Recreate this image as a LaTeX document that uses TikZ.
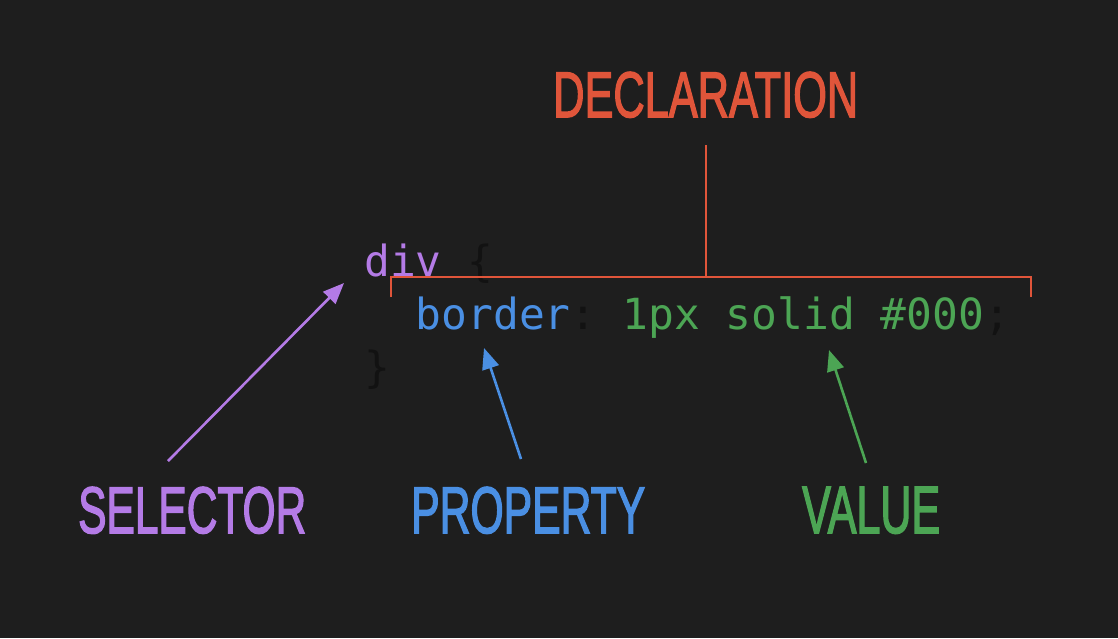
\documentclass[tikz,border=0pt]{standalone}
\usepackage{fontspec}
\setmainfont{Liberation Sans}
\setmonofont{DejaVu Sans Mono}
\newfontfamily\tagfont[FakeBold=2.5]{Liberation Sans}
\usetikzlibrary{positioning,arrows.meta,calc}
\definecolor{bgdark}{HTML}{1E1E1E}
\definecolor{punct}{HTML}{121212}
\definecolor{selcol}{HTML}{B47BE6}
\definecolor{propcol}{HTML}{4A8FE3}
\definecolor{valcol}{HTML}{4CA554}
\definecolor{declcol}{HTML}{E0553A}
\newcommand{\biglabel}[3]{\resizebox{#1}{#2}{\tagfont #3}}
\tikzset{
  codeline/.style={inner sep=0pt, anchor=base west, font=\ttfamily\fontsize{42.9}{53}\selectfont},
  tag/.style={inner sep=0pt, anchor=base west},
  arr/.style={-{Triangle[length=21pt, width=17pt]}, line width=2.6pt},
  brace/.style={declcol, line width=2.3pt}}

\begin{document}
\begin{tikzpicture}[x=1pt, y=-1pt]
\fill[bgdark] (0,0) rectangle (1118,638);
\useasboundingbox (0,0) rectangle (1118,638);
% code block
\node[codeline] (divline) at (364,276) {\textcolor{selcol}{div} \textcolor{punct}{\{}};
\node[codeline] (propline) at (415.6,329) {\textcolor{propcol}{border}\textcolor{punct}{:} \textcolor{valcol}{1px solid \#000}\textcolor{punct}{;}};
\node[codeline] (closeline) at (364,382) {\textcolor{punct}{\}}};
% labels
\node[tag, declcol] (decl) at (553,117) {\biglabel{305pt}{45pt}{DECLARATION}};
\node[tag, selcol] (sel) at (78,533) {\biglabel{228pt}{46pt}{SELECTOR}};
\node[tag, propcol] (prop) at (411,533) {\biglabel{234pt}{46pt}{PROPERTY}};
\node[tag, valcol] (val) at (802,533) {\biglabel{138pt}{46pt}{VALUE}};
% declaration bracket
\coordinate (stem) at (706,145);
\coordinate (join) at (706,277);
\coordinate (bl) at (391,297);
\coordinate (tl) at (391,277);
\coordinate (tr) at (1031,277);
\coordinate (br) at (1031,297);
\draw[brace] (bl) -- (tl) -- (tr) -- (br);
\draw[brace] (stem) -- (join);
% arrows
\coordinate (selTail) at (168,461);
\coordinate (selTip) at (344,283);
\coordinate (propTail) at (521,459);
\coordinate (propTip) at (484,348);
\coordinate (valTail) at (866,463);
\coordinate (valTip) at (829,350);
\draw[arr, selcol] (selTail) -- (selTip);
\draw[arr, propcol] (propTail) -- (propTip);
\draw[arr, valcol] (valTail) -- (valTip);
\end{tikzpicture}
\end{document}
